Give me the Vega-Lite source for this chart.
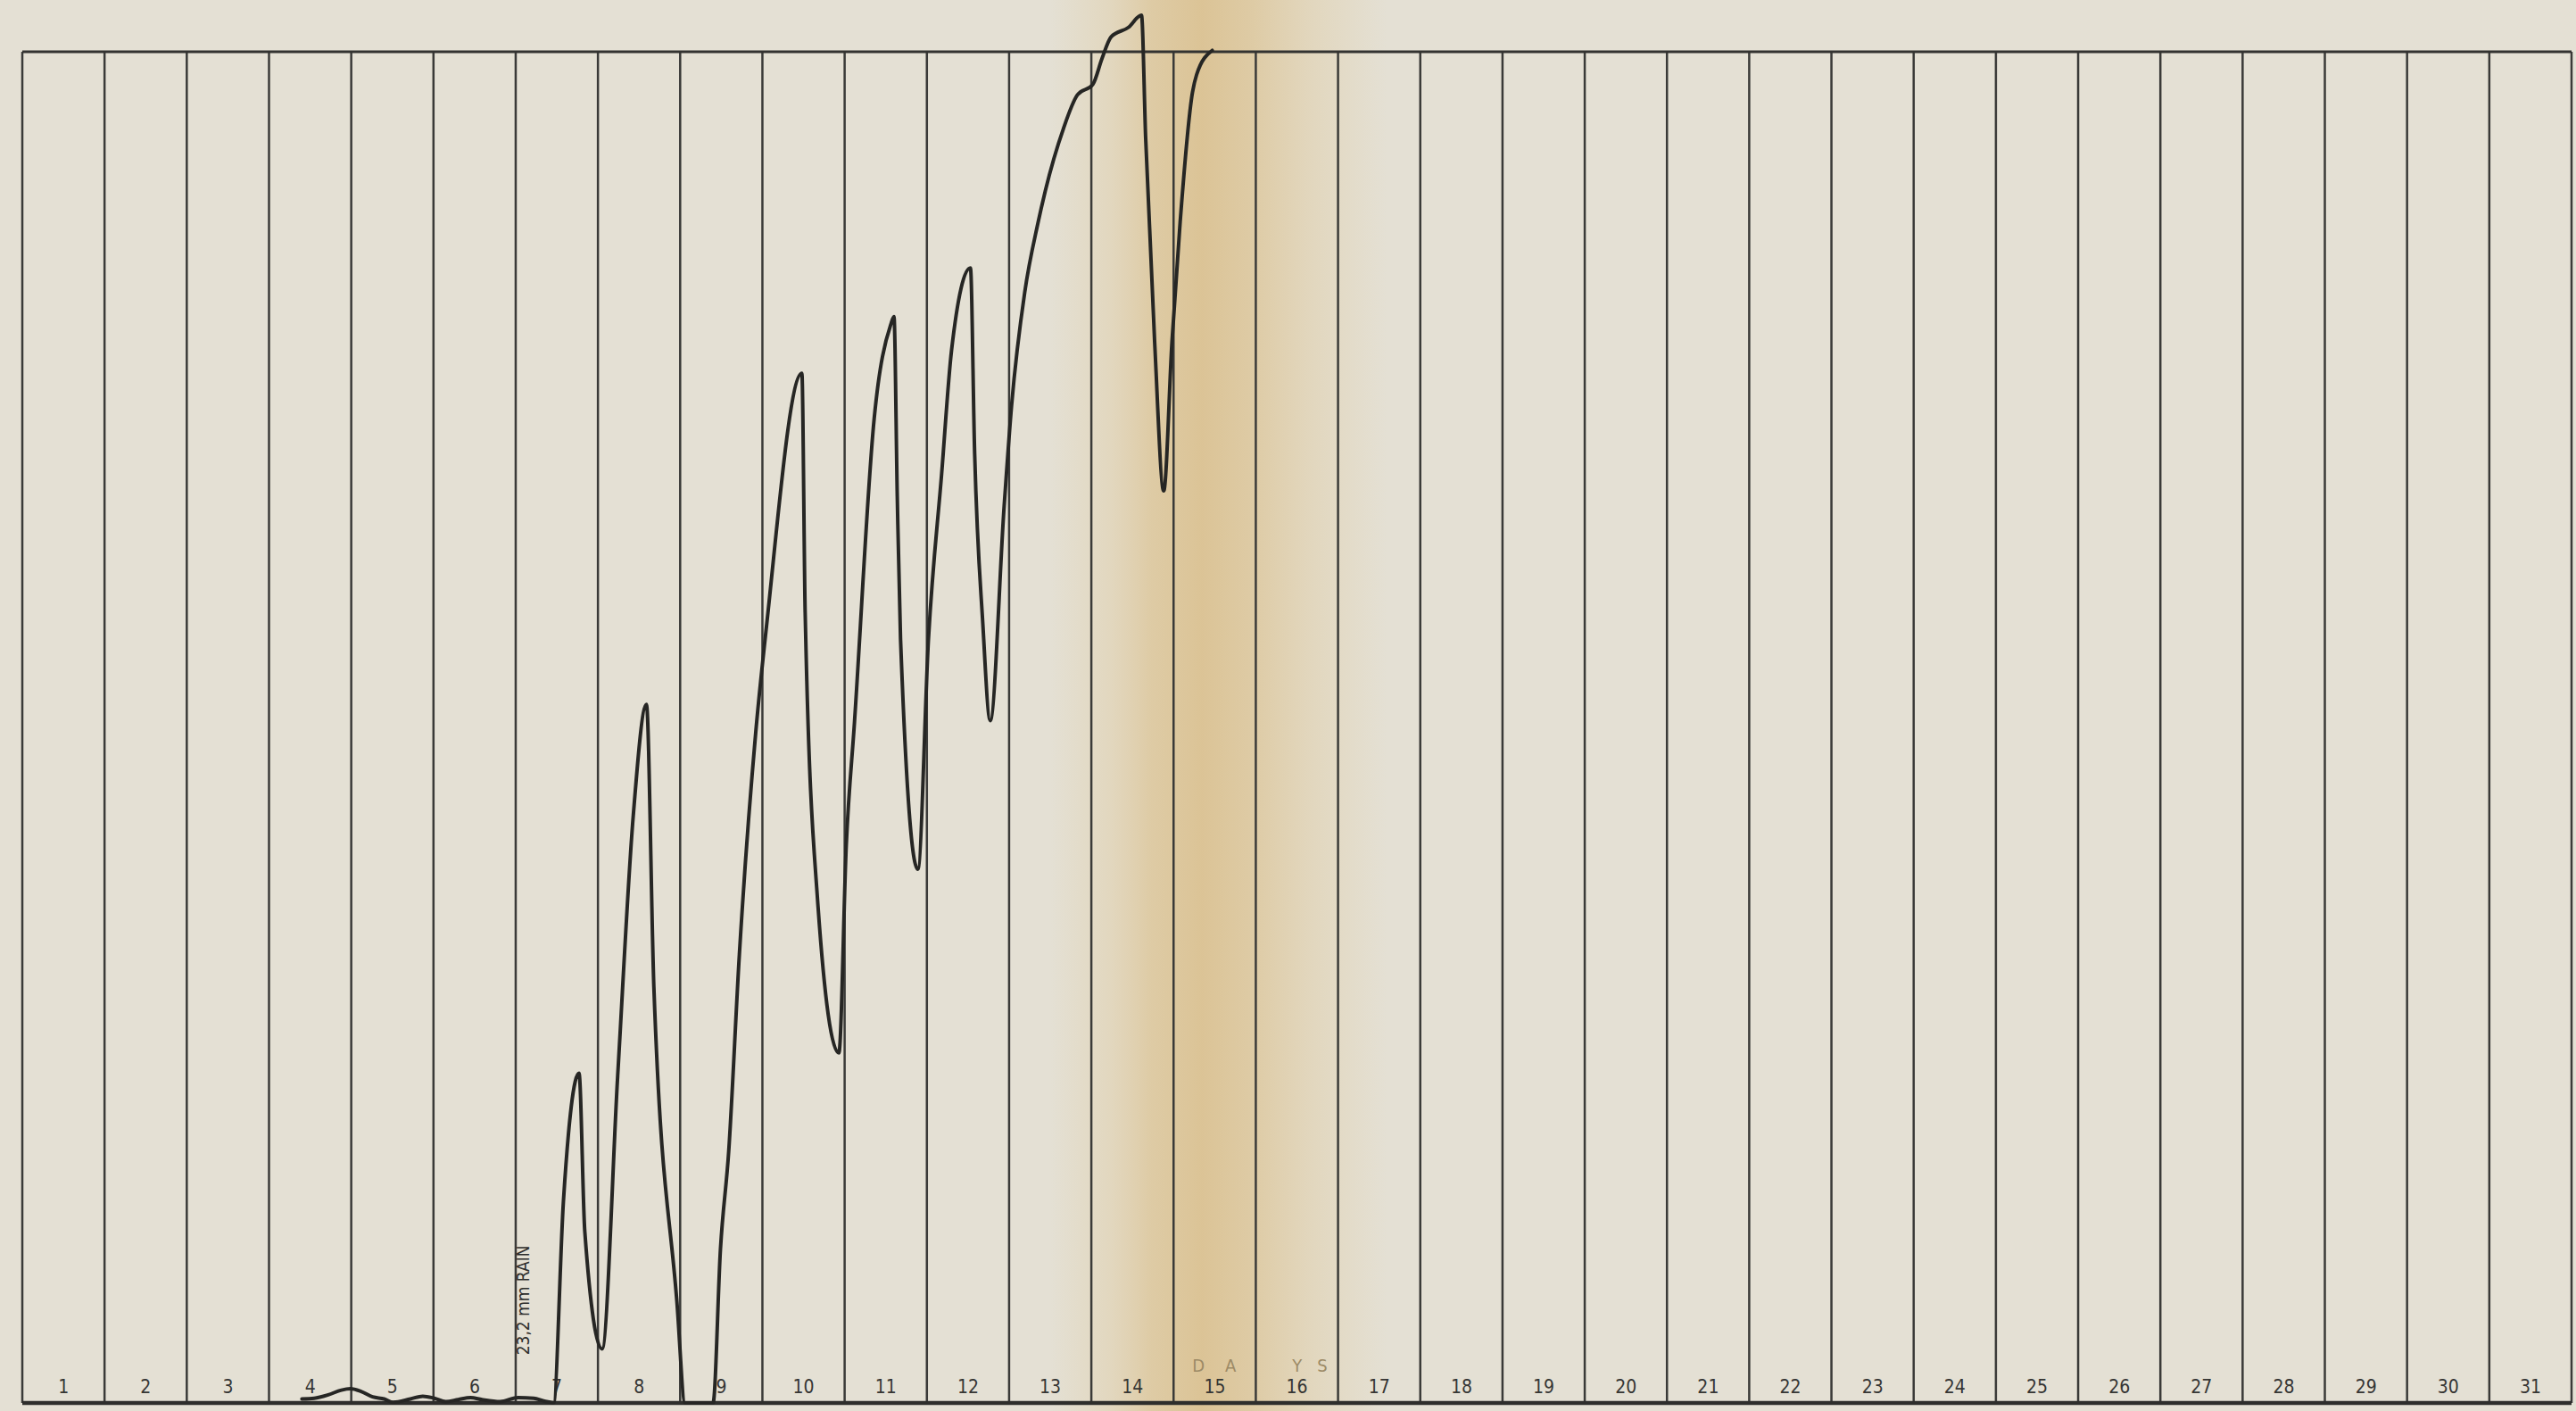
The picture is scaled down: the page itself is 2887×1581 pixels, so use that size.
{
  "$schema": "https://vega.github.io/schema/vega-lite/v6.json",
  "width": 2857,
  "height": 1514,
  "autosize": {"type": "none"},
  "padding": {"left": 25, "top": 58, "right": 5, "bottom": 9},
  "background": "#e4e0d4",
  "config": {"view": {"stroke": null}},
  "datasets": {
    "trace": [
      {"day": 3.40, "level": 0.3}, {"day": 3.55, "level": 0.35}, {"day": 3.72, "level": 0.6}, {"day": 3.88, "level": 0.95},
      {"day": 3.99, "level": 1.05}, {"day": 4.12, "level": 0.85}, {"day": 4.26, "level": 0.45}, {"day": 4.40, "level": 0.3},
      {"day": 4.51, "level": 0.05}, {"day": 4.72, "level": 0.3}, {"day": 4.87, "level": 0.5}, {"day": 5.01, "level": 0.35},
      {"day": 5.15, "level": 0.1}, {"day": 5.30, "level": 0.25}, {"day": 5.45, "level": 0.4}, {"day": 5.59, "level": 0.25},
      {"day": 5.81, "level": 0.1}, {"day": 6.03, "level": 0.4}, {"day": 6.22, "level": 0.35}, {"day": 6.34, "level": 0.15},
      {"day": 6.42, "level": 0.05}, {"day": 6.46, "level": 0}, {"day": 6.58, "level": 14.9}, {"day": 6.77, "level": 24.4},
      {"day": 6.84, "level": 12.7}, {"day": 7.05, "level": 4.0}, {"day": 7.24, "level": 24.2}, {"day": 7.43, "level": 43.5},
      {"day": 7.59, "level": 51.7}, {"day": 7.68, "level": 30.8}, {"day": 7.96, "level": 7.5}, {"day": 8.06, "level": 0},
      {"day": 8.40, "level": 0}, {"day": 8.49, "level": 11.4}, {"day": 8.59, "level": 18.6}, {"day": 8.72, "level": 33.2},
      {"day": 8.92, "level": 49.7}, {"day": 9.05, "level": 57.5}, {"day": 9.48, "level": 76.2}, {"day": 9.52, "level": 58.5},
      {"day": 9.67, "level": 37.3}, {"day": 9.93, "level": 25.9}, {"day": 10.02, "level": 41.3}, {"day": 10.12, "level": 50.4},
      {"day": 10.36, "level": 72.9}, {"day": 10.56, "level": 79.8}, {"day": 10.60, "level": 80.4}, {"day": 10.64, "level": 67.1},
      {"day": 10.68, "level": 56.5}, {"day": 10.89, "level": 39.5}, {"day": 11.02, "level": 56.6}, {"day": 11.18, "level": 68.8},
      {"day": 11.30, "level": 77.9}, {"day": 11.53, "level": 84.0}, {"day": 11.58, "level": 70.5}, {"day": 11.68, "level": 57.7},
      {"day": 11.77, "level": 50.5}, {"day": 11.94, "level": 66.4}, {"day": 12.03, "level": 73.8}, {"day": 12.19, "level": 82.2},
      {"day": 12.35, "level": 87.3}, {"day": 12.44, "level": 89.7}, {"day": 12.66, "level": 94.3}, {"day": 12.83, "level": 96.8},
      {"day": 13.02, "level": 97.6}, {"day": 13.13, "level": 99.5}, {"day": 13.24, "level": 101.1}, {"day": 13.45, "level": 101.8},
      {"day": 13.61, "level": 102.7}, {"day": 13.66, "level": 93.7}, {"day": 13.77, "level": 78.5}, {"day": 13.88, "level": 67.5},
      {"day": 13.98, "level": 78.5}, {"day": 14.08, "level": 87.4}, {"day": 14.23, "level": 97.0}, {"day": 14.28, "level": 98.3},
      {"day": 14.47, "level": 100.1}
    ],
    "days": [
      {"day": 0}, {"day": 1}, {"day": 2}, {"day": 3}, {"day": 4}, {"day": 5}, {"day": 6}, {"day": 7}, {"day": 8},
      {"day": 9}, {"day": 10}, {"day": 11}, {"day": 12}, {"day": 13}, {"day": 14}, {"day": 15}, {"day": 16},
      {"day": 17}, {"day": 18}, {"day": 19}, {"day": 20}, {"day": 21}, {"day": 22}, {"day": 23}, {"day": 24},
      {"day": 25}, {"day": 26}, {"day": 27}, {"day": 28}, {"day": 29}, {"day": 30}, {"day": 31}
    ]
  },
  "layer": [
    {
      "data": {"values": [{"note": "stain"}]},
      "mark": {
        "type": "rect",
        "clip": false,
        "color": {
          "gradient": "linear",
          "x1": 0, "x2": 1, "y1": 0, "y2": 0,
          "stops": [
            {"offset": 0, "color": "rgba(222,192,130,0)"},
            {"offset": 0.18, "color": "rgba(220,188,126,0.25)"},
            {"offset": 0.3, "color": "rgba(216,182,118,0.5)"},
            {"offset": 0.45, "color": "rgba(214,178,112,0.62)"},
            {"offset": 0.6, "color": "rgba(216,182,118,0.5)"},
            {"offset": 0.78, "color": "rgba(220,188,126,0.25)"},
            {"offset": 1, "color": "rgba(222,192,130,0)"}
          ]
        }
      },
      "encoding": {
        "x": {"datum": 12.5, "type": "quantitative", "scale": {"domain": [0, 31], "nice": false, "zero": false}, "axis": null},
        "x2": {"datum": 16.6},
        "y": {"datum": 104.5, "type": "quantitative", "scale": {"domain": [0, 100], "nice": false, "zero": false}, "axis": null},
        "y2": {"datum": -1}
      }
    },
    {
      "data": {"name": "days"},
      "mark": {"type": "rule", "color": "#3a3a38", "strokeWidth": 2.5},
      "encoding": {
        "x": {"field": "day", "type": "quantitative", "axis": null}
      }
    },
    {
      "data": {"values": [{"edge": "top"}]},
      "mark": {"type": "rule", "color": "#333331", "strokeWidth": 3},
      "encoding": {"y": {"datum": 100, "type": "quantitative"}}
    },
    {
      "data": {"values": [{"edge": "bottom"}]},
      "mark": {"type": "rule", "color": "#2e2e2c", "strokeWidth": 4.5},
      "encoding": {"y": {"datum": 0, "type": "quantitative"}}
    },
    {
      "data": {"name": "days"},
      "transform": [{"filter": "datum.day >= 1"}],
      "mark": {"type": "text", "dx": -46, "fontSize": 21, "font": "DejaVu Sans Condensed, sans-serif", "color": "#363634", "align": "center", "baseline": "middle"},
      "encoding": {
        "x": {"field": "day", "type": "quantitative"},
        "y": {"datum": 1.1, "type": "quantitative"},
        "text": {"field": "day", "type": "quantitative", "format": "d"}
      }
    },
    {
      "data": {"values": [{"label": "D\u00a0\u00a0\u00a0\u00a0A\u00a0\u00a0\u00a0\u00a0\u00a0\u00a0\u00a0\u00a0\u00a0\u00a0\u00a0Y\u00a0\u00a0\u00a0S"}]},
      "mark": {"type": "text", "fontSize": 20, "font": "DejaVu Sans Condensed, sans-serif", "color": "#9c8a66", "align": "center", "baseline": "middle"},
      "encoding": {
        "x": {"datum": 15.05, "type": "quantitative"},
        "y": {"datum": 2.7, "type": "quantitative"},
        "text": {"field": "label"}
      }
    },
    {
      "data": {"values": [{"note": "23,2 mm RAIN"}]},
      "mark": {"type": "text", "angle": 270, "fontSize": 19, "font": "DejaVu Sans Condensed, sans-serif", "color": "#2e2e2c", "align": "center", "baseline": "middle"},
      "encoding": {
        "x": {"datum": 6.1, "type": "quantitative"},
        "y": {"datum": 7.6, "type": "quantitative"},
        "text": {"field": "note"}
      }
    },
    {
      "data": {"name": "trace"},
      "mark": {"type": "line", "clip": false, "interpolate": "monotone", "color": "#262624", "strokeWidth": 4, "strokeJoin": "round", "strokeCap": "round"},
      "encoding": {
        "x": {"field": "day", "type": "quantitative"},
        "y": {"field": "level", "type": "quantitative"}
      }
    }
  ]
}
